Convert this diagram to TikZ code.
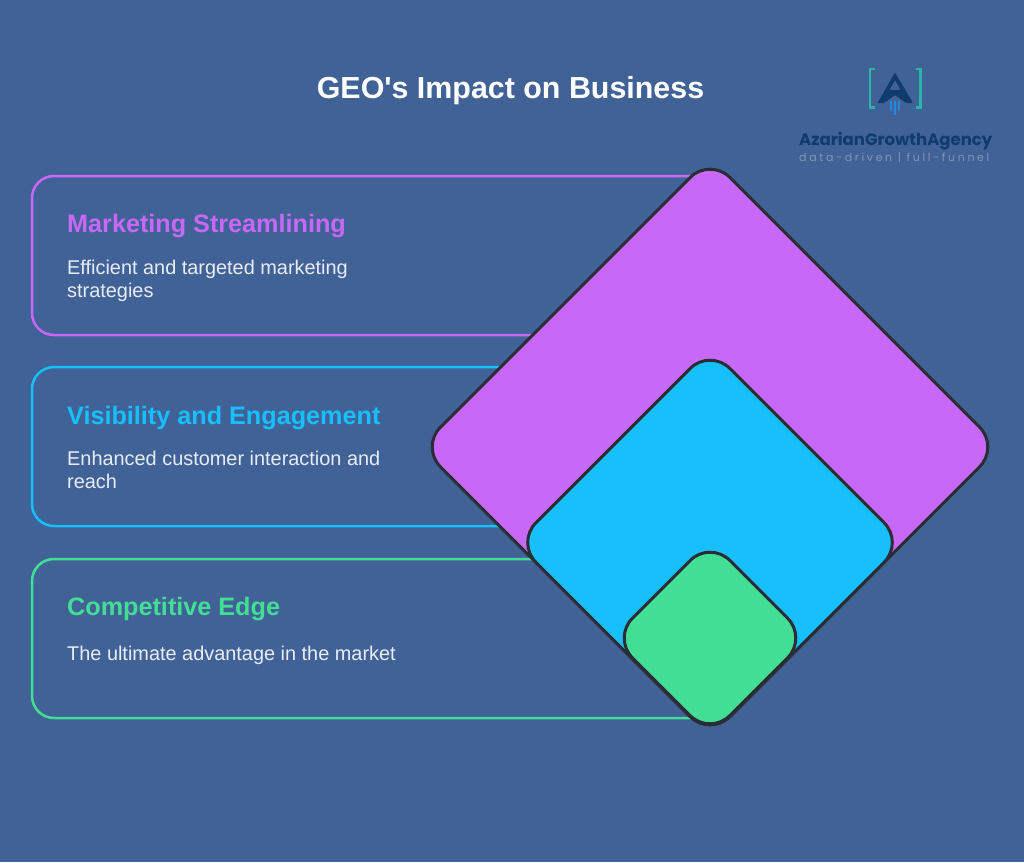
\documentclass[tikz,border=0pt]{standalone}
\usepackage{fontspec}
\setmainfont{Liberation Sans}
\newfontfamily\logofont{Poppins}
\newfontfamily\tagfont[LetterSpace=24]{Poppins}
\usetikzlibrary{shapes.geometric}
\definecolor{bgblue}{HTML}{416296}
\definecolor{stratpurple}{HTML}{C868F7}
\definecolor{stratblue}{HTML}{18BFFD}
\definecolor{stratgreen}{HTML}{43DE95}
\definecolor{edgedark}{HTML}{2B2D36}
\definecolor{bodytext}{HTML}{E8EDF5}
\definecolor{logonavy}{HTML}{103B6E}
\definecolor{logoteal}{HTML}{2BB5A5}
\definecolor{logobar}{HTML}{2288E0}
\definecolor{logotag}{HTML}{7F97B8}
\tikzset{
  cardbox/.style={draw=#1,line width=2.5pt,rounded corners=22pt},
  tier/.style={diamond,draw=edgedark,line width=3pt,fill=#1,rounded corners=28pt,inner sep=0pt},
  headtext/.style={anchor=base west,inner sep=0pt,text=#1,font=\fontsize{25.2}{30}\selectfont\bfseries},
  bodynote/.style={anchor=north west,inner sep=0pt,text=bodytext,align=left,font=\fontsize{19.9}{23}\selectfont},
}
\begin{document}
\begin{tikzpicture}[x=1pt,y=-1pt]
  \useasboundingbox (0,0) rectangle (1024,862);
  \fill[bgblue] (0,0) rectangle (1024,862);
  % title
  \node[inner sep=0pt,anchor=base,text=white,font=\fontsize{30.4}{37}\selectfont\bfseries] (title) at (510.5,98) {GEO\textquotesingle s Impact on Business};
  % cards
  \draw[cardbox=stratpurple] (720,176) -- (32,176) -- (32,335) -- (720,335);
  \draw[cardbox=stratblue] (720,367) -- (32,367) -- (32,526) -- (720,526);
  \draw[cardbox=stratgreen] (720,559) -- (32,559) -- (32,718) -- (720,718);
  % tiers
  \node[tier=stratpurple,minimum width=580pt,minimum height=580pt] (outer) at (710,447) {};
  \node[tier=stratblue,minimum width=389pt,minimum height=389pt] (middle) at (710,542.5) {};
  \node[tier=stratgreen,minimum width=196pt,minimum height=196pt] (inner) at (710,638) {};
  % card texts
  \node[headtext=stratpurple] (head1) at (67,232) {Marketing Streamlining};
  \node[bodynote] (note1) at (67,259.5) {Efficient and targeted marketing\\strategies};
  \node[headtext=stratblue] (head2) at (67,424) {Visibility and Engagement};
  \node[bodynote] (note2) at (67,451) {Enhanced customer interaction and\\reach};
  \node[headtext=stratgreen] (head3) at (67,615) {Competitive Edge};
  \node[bodynote] (note3) at (67,646) {The ultimate advantage in the market};
  % logo
  \draw[logoteal,line width=2.2pt] (875,69) -- (870,69) -- (870,107.5) -- (875,107.5);
  \draw[logoteal,line width=2.2pt] (915.5,69) -- (920.5,69) -- (920.5,107.5) -- (915.5,107.5);
  \fill[logonavy,even odd rule,rounded corners=1pt] (895,72.5) -- (913,103) -- (906,103) -- (895,95) -- (884,103) -- (877.5,103) -- cycle (895,80) -- (889.5,90) -- (900.5,90) -- cycle;
  \draw[logobar,line width=2pt] (891,101) -- (891,110) (895,101) -- (895,115) (899,101) -- (899,110);
  \node[inner sep=0pt,anchor=base west,text=logonavy,font=\logofont\fontsize{16.5}{20}\selectfont\bfseries] (logoname) at (799,145.5) {AzarianGrowthAgency};
  \node[inner sep=0pt,anchor=base west,text=logotag,font=\tagfont\fontsize{11}{13}\selectfont] (logotagline) at (799,161) {data-driven | full-funnel};
\end{tikzpicture}
\end{document}
